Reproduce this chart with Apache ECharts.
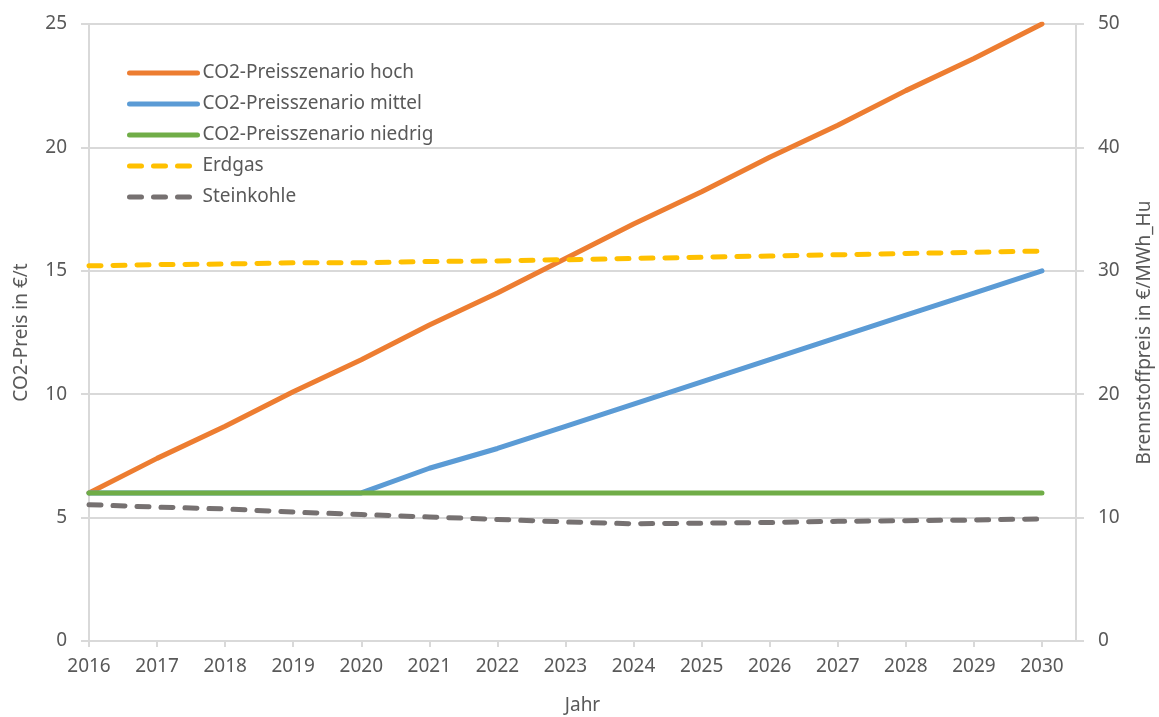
<!DOCTYPE html>
<html>
<head>
<meta charset="utf-8">
<script src="https://cdn.jsdelivr.net/npm/echarts@6/dist/echarts.min.js"></script>
<style>
  html, body { margin: 0; padding: 0; background: #fff; }
  #main { width: 1159px; height: 717px; }
</style>
</head>
<body>
<div id="main"></div>
<script>
// values
const years = [2016, 2017, 2018, 2019, 2020, 2021, 2022, 2023, 2024, 2025, 2026, 2027, 2028, 2029, 2030];
const hoch = [6, 7.4, 8.7, 10.1, 11.4, 12.8, 14.1, 15.5, 16.9, 18.2, 19.6, 20.9, 22.3, 23.6, 25];
const mittel = [6, 6, 6, 6, 6, 7.0, 7.8, 8.7, 9.6, 10.5, 11.4, 12.3, 13.2, 14.1, 15];
const niedrig = [6, 6, 6, 6, 6, 6, 6, 6, 6, 6, 6, 6, 6, 6, 6];
const erdgas = [30.4, 30.5, 30.55, 30.65, 30.65, 30.75, 30.8, 30.9, 31.0, 31.1, 31.2, 31.3, 31.4, 31.5, 31.6];
const steinkohle = [11.05, 10.85, 10.7, 10.45, 10.25, 10.05, 9.85, 9.65, 9.5, 9.55, 9.6, 9.7, 9.75, 9.8, 9.9];

const seriesNames = ['CO2-Preisszenario hoch', 'CO2-Preisszenario mittel', 'CO2-Preisszenario niedrig', 'Erdgas', 'Steinkohle'];
const colors = ['#ED7D31', '#5B9BD5', '#70AD47', '#FFC000', '#767171'];

const pairs = arr => years.map((y, i) => [y, arr[i]]);
const txt = '#595959';
const gridCol = '#D9D9D9';
const font = 'Noto Sans';
const fs = 19;

const chart = echarts.init(document.getElementById('main'));

const mk = (i, data, yIdx, dashed) => ({
  name: seriesNames[i],
  type: 'line',
  yAxisIndex: yIdx,
  data: pairs(data),
  symbol: 'none',
  animation: false,
  lineStyle: {
    color: colors[i],
    width: 5,
    type: dashed ? [12, 12] : 'solid',
    cap: 'round'
  },
  itemStyle: { color: colors[i] }
});

chart.setOption({
  textStyle: { fontFamily: font },
  grid: { left: 89, right: 83, top: 24, bottom: 76, outerBoundsMode: 'none', containLabel: false },
  legend: {
    orient: 'vertical',
    left: 122,
    top: 57,
    align: 'left',
    itemWidth: 68,
    itemHeight: 14,
    itemGap: 9,
    data: seriesNames,
    itemStyle: { opacity: 0 },
    lineStyle: { width: 5, cap: 'round' },
    textStyle: { color: txt, fontSize: fs, fontFamily: font, lineHeight: 22 }
  },
  xAxis: {
    type: 'value',
    min: 2016,
    max: 2030.5,
    interval: 1,
    name: 'Jahr',
    nameLocation: 'middle',
    nameGap: 55,
    nameTextStyle: { color: txt, fontSize: fs },
    axisLine: { onZero: false, lineStyle: { color: gridCol, width: 2 } },
    axisTick: { show: true, length: 6, lineStyle: { color: gridCol, width: 2 } },
    splitLine: { show: false },
    axisLabel: {
      color: txt, fontSize: fs, margin: 16, showMaxLabel: false,
      formatter: v => Number.isInteger(v) ? String(v) : ''
    }
  },
  yAxis: [
    {
      type: 'value',
      min: 0, max: 25, interval: 5,
      name: 'CO2-Preis in €/t',
      nameLocation: 'middle',
      nameGap: 58,
      nameTextStyle: { color: txt, fontSize: fs },
      axisLine: { show: true, lineStyle: { color: gridCol, width: 2 } },
      axisTick: { show: true, length: 8, lineStyle: { color: gridCol, width: 2 } },
      splitLine: { lineStyle: { color: gridCol, width: 2 } },
      axisLabel: { color: txt, fontSize: fs, margin: 22 }
    },
    {
      type: 'value',
      min: 0, max: 50, interval: 10,
      position: 'right',
      name: 'Brennstoffpreis in €/MWh_Hu',
      nameLocation: 'middle',
      nameGap: 59,
      nameTextStyle: { color: txt, fontSize: fs },
      axisLine: { show: true, lineStyle: { color: gridCol, width: 2 } },
      axisTick: { show: true, length: 8, lineStyle: { color: gridCol, width: 2 } },
      splitLine: { show: false },
      axisLabel: { color: txt, fontSize: fs, margin: 22 }
    }
  ],
  series: [
    mk(0, hoch, 0, false),
    mk(1, mittel, 0, false),
    mk(2, niedrig, 0, false),
    mk(3, erdgas, 1, true),
    mk(4, steinkohle, 1, true)
  ]
});
</script>
</body>
</html>
